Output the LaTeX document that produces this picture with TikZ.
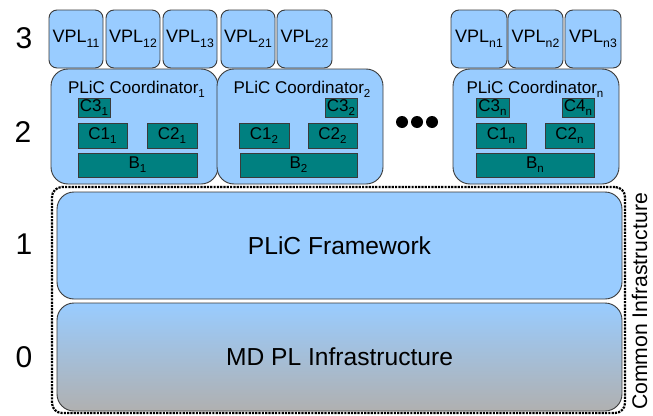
\documentclass[tikz,border=0pt]{standalone}
\usepackage{fontspec}
\setmainfont{Liberation Sans}

\definecolor{lblue}{HTML}{99CCFF}
\definecolor{boxteal}{HTML}{008080}
\definecolor{edge}{HTML}{3A3A3A}
\definecolor{basegray}{HTML}{B0B0B0}

% lowered, smaller index (VPL_11, C1_n, ...)
\newcommand\lowix[1]{\raisebox{-0.25em}{\scalebox{0.68}{#1}}}
\newcommand\px[1]{\fontsize{#1}{#1}\selectfont}

% box given by its corners in pixel-like units: name, style, x1, y1, x2, y2, text
\newcommand\placebox[7]{%
  \node[#2, minimum width={(#5-#3)*1pt}, minimum height={(#6-#4)*1pt}]
    (#1) at ({(#3+#5)/2},{(#4+#6)/2}) {#7};}

\tikzset{
  frame/.style={inner sep=0pt, outer sep=0pt, line width=0.9pt, draw=edge},
  vplbox/.style={frame, fill=lblue, rounded corners=8pt, font=\px{18}},
  coordbox/.style={frame, fill=lblue, rounded corners=17pt},
  title/.style={anchor=base, inner sep=0pt, font=\px{17}},
  compbox/.style={frame, fill=boxteal, font=\px{17}},
  layerbox/.style={frame, rounded corners=17pt, font=\px{24.6}},
  levelnum/.style={inner sep=0pt, font=\px{30}},
  dotmark/.style={circle, fill=black, inner sep=0pt, minimum size=12pt},
  commonframe/.style={inner sep=0pt, draw=black, line width=2.2pt,
    dash pattern=on 2.2pt off 1.1pt, rounded corners=10pt},
}

\begin{document}
\begin{tikzpicture}[x=1pt, y=-1pt]
\useasboundingbox (0,0) rectangle (653,415);

% level numbers
\node[levelnum] (n3) at (24,38.5) {3};
\node[levelnum] (n2) at (23,132) {2};
\node[levelnum] (n1) at (24,244.5) {1};
\node[levelnum] (n0) at (24,357.5) {0};

% common infrastructure (levels 0 and 1)
\placebox{common}{commonframe}{52}{187}{625}{413}{}
\placebox{framework}{layerbox, fill=lblue}{57}{192}{622}{299}{PLiC Framework}
\placebox{mdpl}{layerbox, top color=lblue, bottom color=basegray}{57}{303}{622}{411}{MD PL Infrastructure}
\node[rotate=90, inner sep=0pt, font=\px{21.2}] (commonlabel) at (639.5,301.5) {Common Infrastructure};

% level 3: VPLs
\placebox{vpl11}{vplbox}{49}{10}{103}{68}{VPL\lowix{11}}
\placebox{vpl12}{vplbox}{106}{10}{160}{68}{VPL\lowix{12}}
\placebox{vpl13}{vplbox}{163}{10}{217}{68}{VPL\lowix{13}}
\placebox{vpl21}{vplbox}{221}{10}{275}{68}{VPL\lowix{21}}
\placebox{vpl22}{vplbox}{277}{10}{332}{68}{VPL\lowix{22}}
\placebox{vpln1}{vplbox}{451}{10}{507}{68}{VPL\lowix{n1}}
\placebox{vpln2}{vplbox}{508}{10}{563}{68}{VPL\lowix{n2}}
\placebox{vpln3}{vplbox}{565}{10}{621}{68}{VPL\lowix{n3}}

% level 2: coordinators
\placebox{coord1}{coordbox}{51}{69}{218}{184}{}
\node[title] (title1) at (136.5,93) {PLiC Coordinator\lowix{1}};
\placebox{c3a}{compbox}{78}{98}{110}{117}{C3\lowix{1}}
\placebox{c1a}{compbox}{78}{123}{127}{148}{C1\lowix{1}}
\placebox{c2a}{compbox}{147}{123}{197}{148}{C2\lowix{1}}
\placebox{ba}{compbox}{78}{153}{197}{177}{B\lowix{1}}

\placebox{coord2}{coordbox}{217}{69}{383}{184}{}
\node[title] (title2) at (302,93) {PLiC Coordinator\lowix{2}};
\placebox{c3b}{compbox}{325}{98}{357}{117}{C3\lowix{2}}
\placebox{c1b}{compbox}{239}{123}{289}{148}{C1\lowix{2}}
\placebox{c2b}{compbox}{308}{123}{357}{148}{C2\lowix{2}}
\placebox{bb}{compbox}{240}{153}{357}{177}{B\lowix{2}}

\placebox{coordn}{coordbox}{453}{69}{619}{184}{}
\node[title] (titlen) at (535,93) {PLiC Coordinator\lowix{n}};
\placebox{c3n}{compbox}{476}{98}{509}{117}{C3\lowix{n}}
\placebox{c4n}{compbox}{562}{98}{594}{117}{C4\lowix{n}}
\placebox{c1n}{compbox}{476}{123}{526}{148}{C1\lowix{n}}
\placebox{c2n}{compbox}{545}{123}{594}{148}{C2\lowix{n}}
\placebox{bn}{compbox}{476}{153}{594}{177}{B\lowix{n}}

% ellipsis between coordinators
\node[dotmark] (dot1) at (402,122) {};
\node[dotmark] (dot2) at (417,122) {};
\node[dotmark] (dot3) at (432,122) {};
\end{tikzpicture}
\end{document}
